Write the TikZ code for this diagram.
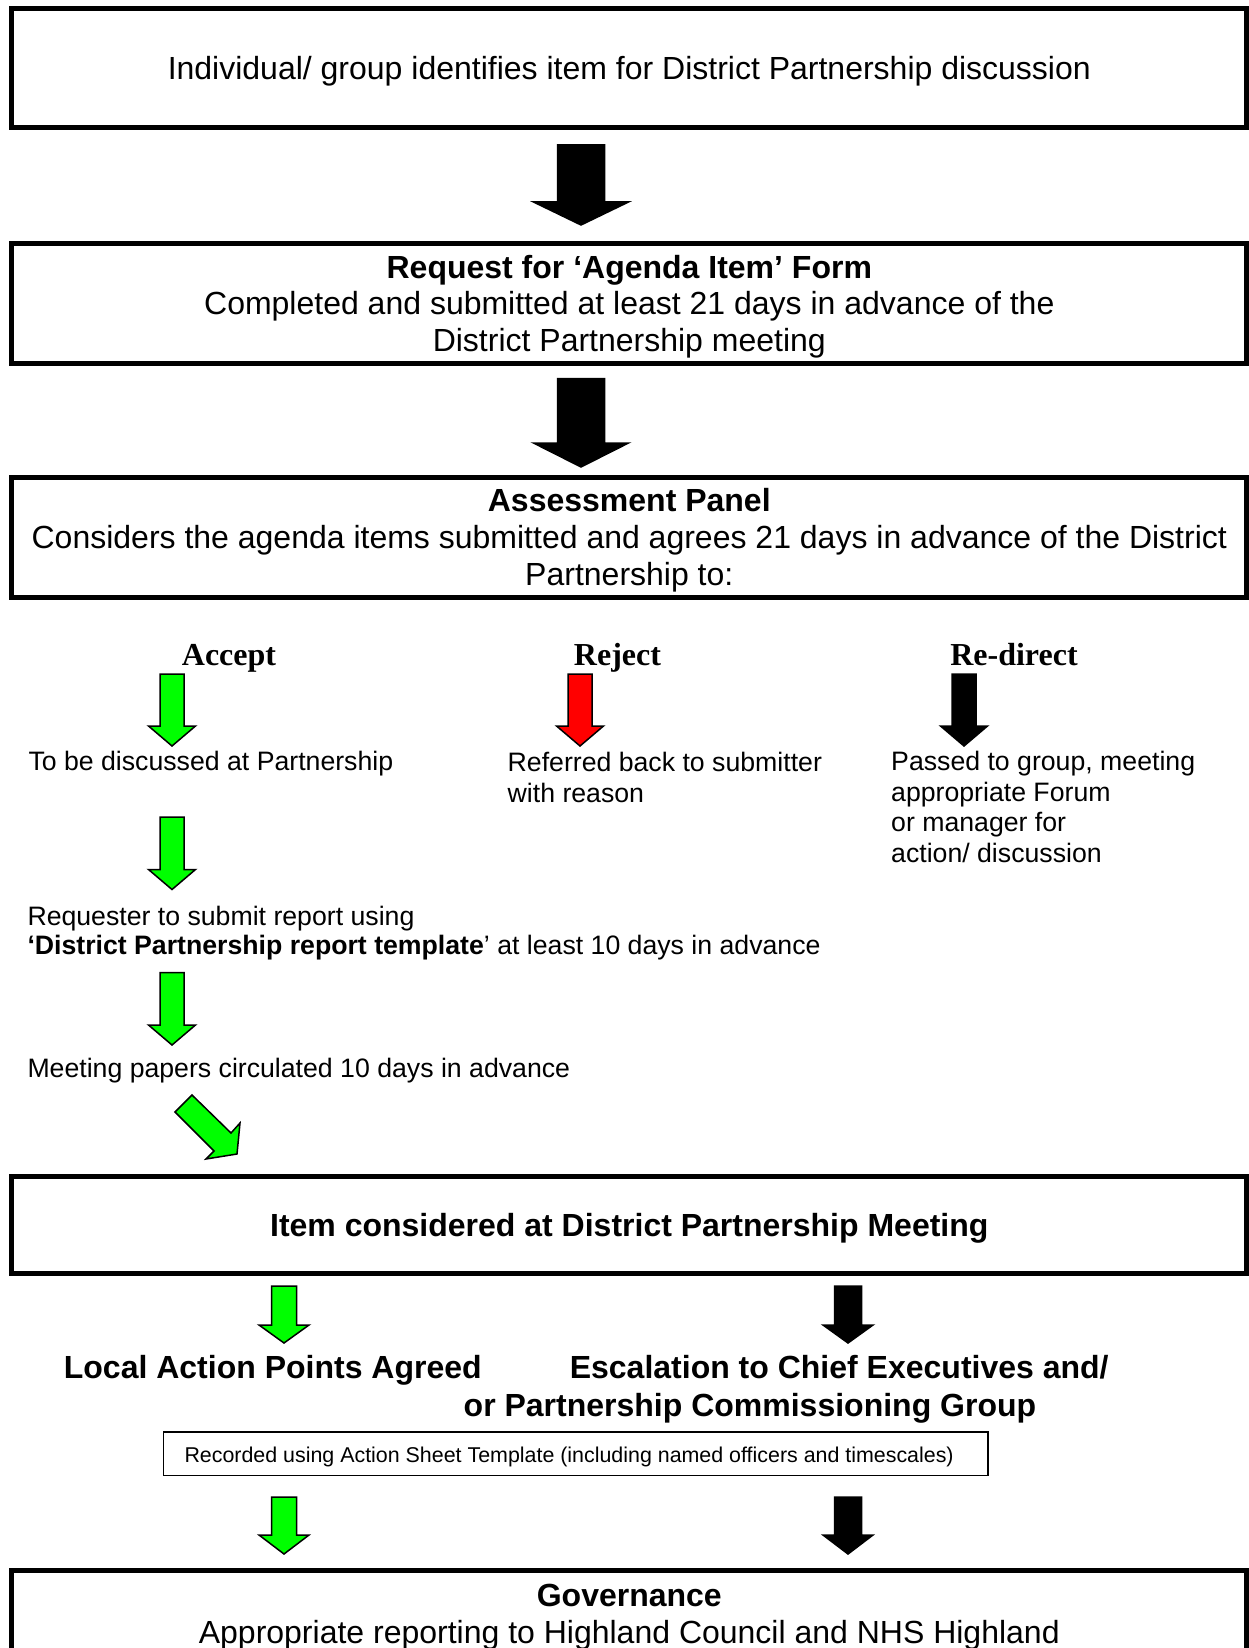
\documentclass[tikz,border=0pt]{standalone}
\usepackage{fontspec}
\setmainfont{Liberation Sans}
\newfontfamily\tnrfont{Liberation Serif}
\definecolor{agreen}{RGB}{0,255,0}
\definecolor{ared}{RGB}{255,0,0}
\tikzset{
  bigbox/.style={draw=black, line width=5pt, minimum width=1235.3pt, inner sep=0pt},
  boxtext/.style={inner sep=0pt, align=center, font=\fontsize{32}{36.8}\selectfont},
  hd/.style={inner sep=0pt, anchor=base, font=\tnrfont\bfseries\fontsize{32}{36}\selectfont},
  smalltext/.style={inner sep=0pt, anchor=base west, align=left, font=\fontsize{26.67}{30.5}\selectfont},
  boldtext/.style={inner sep=0pt, font=\bfseries\fontsize{32}{36.8}\selectfont},
  recbox/.style={draw=black, line width=1.5pt, minimum height=43.5pt, minimum width=824.5pt, inner sep=0pt},
  rectext/.style={inner sep=0pt, anchor=west, font=\fontsize{21.4}{24.5}\selectfont},
  blockarr/.style={draw=black, line width=1.5pt, line join=miter},
}
% #1 colour, #2 centre x, #3 top y, #4 head base y, #5 tip y, #6 shaft half width, #7 head half width
\newcommand\dnarrow[7]{%
  \filldraw[blockarr, fill=#1] ({#2-#6},#3) -- ({#2+#6},#3) -- ({#2+#6},#4) -- ({#2+#7},#4)
    -- (#2,#5) -- ({#2-#7},#4) -- ({#2-#6},#4) -- cycle;}
\begin{document}
\begin{tikzpicture}[x=1pt,y=-1pt]
\useasboundingbox (0,0) rectangle (1249,1648);

% main boxes
\node[bigbox, minimum height=119pt] (b1) at (629.3,68) {};
\node[boxtext] (b1t) at ([yshift=-3.2pt]b1.center)
  {Individual/ group identifies item for District Partnership discussion};
\node[bigbox, minimum height=120pt] (b2) at (629.3,303.5) {};
\node[boxtext] (b2t) at ([yshift=-3.2pt]b2.center)
  {\textbf{Request for ‘Agenda Item’ Form}\\Completed and submitted at least 21 days in advance of the\\District Partnership meeting};
\node[bigbox, minimum height=120pt] (b3) at (629.3,537) {};
\node[boxtext] (b3t) at ([yshift=-3.2pt]b3.center)
  {\textbf{Assessment Panel}\\Considers the agenda items submitted and agrees 21 days in advance of the District\\Partnership to:};
\node[bigbox, minimum height=96.5pt] (b4) at (629.3,1225) {};
\node[boxtext] (b4t) at ([yshift=-3.2pt]b4.center)
  {\textbf{Item considered at District Partnership Meeting}};
\node[bigbox, minimum height=86pt] (b5) at (629.3,1613.5) {};
\node[boxtext] (b5t) at ([yshift=-3.5pt]b5.center)
  {\textbf{Governance}\\Appropriate reporting to Highland Council and NHS Highland};

% big black arrows
\dnarrow{black}{581}{145}{202}{225}{23.5}{47.5}
\dnarrow{black}{581}{378.5}{443}{467}{23.5}{47.5}

% decision headings
\node[hd] (acc) at (229,665.5) {Accept};
\node[hd] (rej) at (617.5,665.5) {Reject};
\node[hd] (red) at (1014,665.5) {Re-direct};

\dnarrow{agreen}{172}{674}{726}{746}{12}{23.5}
\dnarrow{ared}{580}{674}{726}{746}{12}{23.5}
\dnarrow{black}{964}{674}{726}{746}{12}{23.5}

% multi-line nodes: base anchor is the last line's baseline
\node[smalltext] (t1) at (28.3,770.8) {To be discussed at Partnership};
\node[smalltext] (t2) at (507.5,802) {Referred back to submitter\\with reason};
\node[smalltext] (t3) at (891,862.3) {Passed to group, meeting\\appropriate Forum\\or manager for\\action/ discussion};

\dnarrow{agreen}{172}{817}{869.5}{889.5}{12}{23.5}
\node[smalltext, font=\fontsize{26.67}{29.5}\selectfont] (t4) at (27.3,954.8)
  {Requester to submit report using\\\textbf{‘District Partnership report template}’ at least 10 days in advance};

\dnarrow{agreen}{172}{972.5}{1025}{1045}{12}{23.5}
\node[smalltext] (t5) at (27.3,1077.8) {Meeting papers circulated 10 days in advance};

% diagonal arrow
\filldraw[blockarr, fill=agreen] (192,1095) -- (231,1133) -- (240,1123) -- (237,1154)
  -- (206,1159) -- (214,1151) -- (175,1112) -- cycle;

% outcome arrows
\dnarrow{agreen}{284}{1286}{1325}{1343}{12.5}{25}
\dnarrow{black}{848}{1286}{1325}{1343}{13.5}{25}

\node[boldtext, anchor=base] (lap) at (272.8,1378.3) {Local Action Points Agreed};
\node[boldtext, anchor=base west] (esc1) at (569.6,1378.3) {Escalation to Chief Executives and/};
\node[boldtext, anchor=base west] (esc2) at (463.5,1416.2) {or Partnership Commissioning Group};

\node[recbox] (rec) at (575.8,1453.5) {};
\node[rectext] (rect) at ([xshift=21.5pt, yshift=-3.5pt]rec.west)
  {Recorded using Action Sheet Template (including named officers and timescales)};

\dnarrow{agreen}{284}{1497}{1535}{1554}{12.5}{25}
\dnarrow{black}{848}{1497}{1535}{1554}{13.5}{25}
\end{tikzpicture}
\end{document}
